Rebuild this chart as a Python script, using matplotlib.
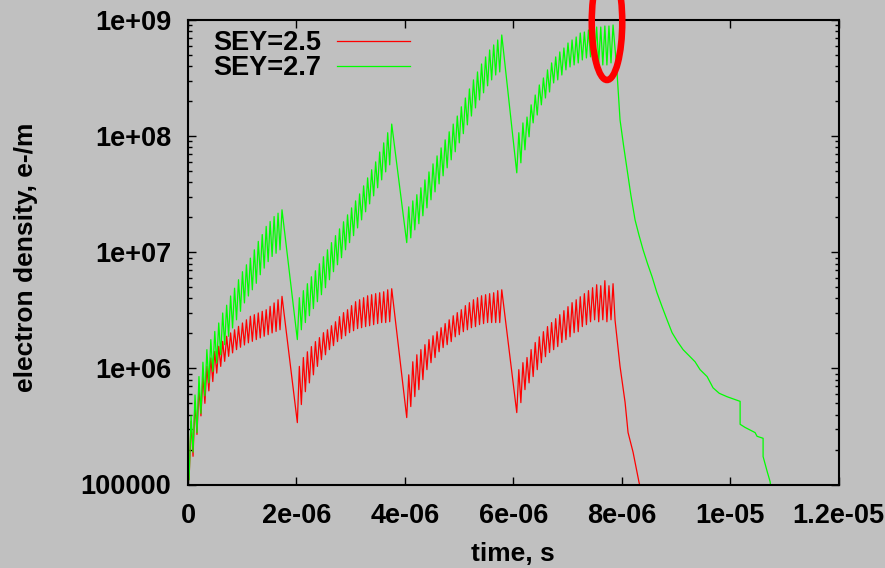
import numpy as np
import matplotlib
matplotlib.use('Agg')
import matplotlib.pyplot as plt
from matplotlib.patches import Ellipse
from matplotlib.ticker import FixedLocator, LogLocator, NullFormatter, NullLocator

plt.rcParams['font.family'] = ['Liberation Sans', 'DejaVu Sans']
plt.rcParams['font.weight'] = 'bold'

# ---------------- data ----------------
labels = ["SEY=2.5", "SEY=2.7"]
x_ticks = [0, 2e-6, 4e-6, 6e-6, 8e-6, 1e-5, 1.2e-5]
x_tick_labels = ["0", "2e-06", "4e-06", "6e-06", "8e-06", "1e-05", "1.2e-05"]
y_ticks = [1e5, 1e6, 1e7, 1e8, 1e9]
y_tick_labels = ["100000", "1e+06", "1e+07", "1e+08", "1e+09"]

# bunch trains: time of the first trough and of the last peak of each train
train_start = [0.02e-6, 2.017e-6, 4.035e-6, 6.065e-6]
train_end = [1.734e-6, 3.758e-6, 5.788e-6, 7.841e-6]

red_start = 1.5e5
green_start = 2.0e5

red_peaks_1 = [3.5e5, 5.1e5, 6.8e5, 8.5e5, 1.04e6, 1.23e6, 1.40e6, 1.55e6, 1.71e6, 1.89e6, 2.02e6, 2.15e6,
               2.30e6, 2.46e6, 2.62e6, 2.81e6, 2.90e6, 3.0e6, 3.1e6, 3.2e6, 3.42e6, 3.66e6, 3.9e6, 4.17e6]
red_troughs_1 = [1.1e5, 1.75e5, 2.7e5, 3.9e5, 5.0e5, 6.4e5, 7.7e5, 9.1e5, 1.04e6, 1.15e6, 1.27e6, 1.36e6,
                 1.45e6, 1.52e6, 1.59e6, 1.66e6, 1.71e6, 1.77e6, 1.83e6, 1.89e6, 1.95e6, 2.02e6, 2.08e6, 2.15e6]
red_peaks_2 = [1.04e6, 1.24e6, 1.39e6, 1.54e6, 1.70e6, 1.84e6, 2.03e6, 2.15e6, 2.33e6, 2.52e6, 2.79e6, 3.02e6,
               3.2e6, 3.47e6, 3.75e6, 3.9e6, 4.06e6, 4.22e6, 4.31e6, 4.40e6, 4.48e6, 4.57e6, 4.75e6, 4.85e6]
red_troughs_2 = [3.41e5, 4.88e5, 6.3e5, 7.5e5, 8.8e5, 1.04e6, 1.19e6, 1.31e6, 1.45e6, 1.57e6, 1.70e6, 1.80e6,
                 1.91e6, 2.03e6, 2.11e6, 2.2e6, 2.24e6, 2.29e6, 2.33e6, 2.38e6, 2.43e6, 2.48e6, 2.48e6, 2.52e6]
red_peaks_3 = [8.8e5, 1.14e6, 1.31e6, 1.45e6, 1.6e6, 1.77e6, 1.91e6, 2.07e6, 2.24e6, 2.43e6, 2.62e6, 2.84e6,
               3.02e6, 3.2e6, 3.47e6, 3.68e6, 3.9e6, 4.06e6, 4.22e6, 4.31e6, 4.40e6, 4.48e6, 4.67e6, 4.75e6]
red_troughs_3 = [3.77e5, 4.69e5, 5.71e5, 6.56e5, 8.0e5, 9.75e5, 1.12e6, 1.24e6, 1.39e6, 1.51e6, 1.6e6, 1.70e6,
                 1.87e6, 1.95e6, 2.07e6, 2.15e6, 2.24e6, 2.29e6, 2.38e6, 2.43e6, 2.48e6, 2.48e6, 2.48e6, 2.48e6]
red_peaks_4 = [9.75e5, 1.12e6, 1.24e6, 1.45e6, 1.67e6, 1.87e6, 2.07e6, 2.29e6, 2.48e6, 2.68e6, 2.9e6, 3.14e6,
               3.4e6, 3.68e6, 3.9e6, 4.14e6, 4.40e6, 4.67e6, 4.95e6, 5.25e6, 5.15e6, 5.69e6, 5.15e6, 5.36e6]
red_troughs_4 = [4.16e5, 5.07e5, 6.56e5, 7.5e5, 8.5e5, 9.75e5, 1.12e6, 1.26e6, 1.37e6, 1.45e6, 1.54e6, 1.67e6,
                 1.77e6, 1.87e6, 2.03e6, 2.07e6, 2.29e6, 2.38e6, 2.52e6, 2.62e6, 2.52e6, 2.62e6, 2.52e6, 2.62e6]

green_peaks_1 = [3.9e5, 5.9e5, 8.5e5, 1.13e6, 1.45e6, 1.77e6, 2.08e6, 2.46e6, 3.0e6, 3.5e6, 4.2e6, 4.9e6,
                 5.8e6, 6.8e6, 7.8e6, 8.9e6, 1.05e7, 1.24e7, 1.42e7, 1.67e7, 1.84e7, 2.03e7, 2.17e7, 2.32e7]
green_troughs_1 = [1.1e5, 1.9e5, 2.8e5, 4.1e5, 5.8e5, 7.5e5, 9.4e5, 1.11e6, 1.31e6, 1.6e6, 1.89e6, 2.23e6,
                   2.62e6, 3.1e6, 3.66e6, 4.2e6, 4.75e6, 5.4e6, 6.4e6, 7.3e6, 8.3e6, 9.2e6, 9.8e6, 1.05e7]
green_peaks_2 = [4.06e6, 4.67e6, 5.36e6, 6.15e6, 6.93e6, 7.96e6, 9.15e6, 1.05e7, 1.21e7, 1.39e7, 1.59e7, 1.83e7,
                 2.10e7, 2.41e7, 2.77e7, 3.18e7, 3.73e7, 4.37e7, 5.13e7, 6.0e7, 7.3e7, 8.75e7, 1.07e8, 1.27e8]
green_troughs_2 = [1.77e6, 2.15e6, 2.48e6, 2.84e6, 3.27e6, 3.75e6, 4.31e6, 4.95e6, 5.8e6, 6.8e6, 7.8e6, 8.97e6,
                   1.05e7, 1.21e7, 1.39e7, 1.62e7, 1.9e7, 2.23e7, 2.61e7, 3.06e7, 3.59e7, 4.2e7, 4.92e7, 5.66e7]
green_peaks_3 = [2.46e7, 2.77e7, 3.13e7, 3.59e7, 4.2e7, 4.92e7, 5.77e7, 6.76e7, 7.92e7, 9.29e7, 1.09e8, 1.27e8,
                 1.49e8, 1.79e8, 2.13e8, 2.55e8, 3.05e8, 3.57e8, 4.18e8, 4.81e8, 5.52e8, 6.1e8, 6.73e8, 7.43e8]
green_troughs_3 = [1.21e7, 1.33e7, 1.56e7, 1.76e7, 2.06e7, 2.41e7, 2.83e7, 3.31e7, 3.88e7, 4.55e7, 5.33e7, 6.25e7,
                   7.33e7, 8.75e7, 1.05e8, 1.25e8, 1.49e8, 1.75e8, 2.05e8, 2.36e8, 2.71e8, 3.05e8, 3.36e8, 3.57e8]
green_peaks_4 = [1.07e8, 1.30e8, 1.46e8, 1.86e8, 2.26e8, 2.76e8, 3.17e8, 3.72e8, 4.27e8, 4.81e8, 5.31e8, 5.74e8,
                 6.34e8, 6.73e8, 7.14e8, 7.73e8, 7.88e8, 8.2e8, 8.53e8, 8.7e8, 8.7e8, 8.88e8, 8.88e8, 9.06e8]
green_troughs_4 = [4.83e7, 5.89e7, 7.62e7, 9.86e7, 1.30e8, 1.52e8, 1.86e8, 2.13e8, 2.40e8, 2.87e8, 3.05e8, 3.36e8,
                   3.72e8, 3.94e8, 4.1e8, 4.27e8, 4.53e8, 4.71e8, 4.81e8, 4.53e8, 4.27e8, 4.1e8, 4.1e8, 4.27e8]

# decay after the last train
red_decay_t = [7.878e-6, 7.970e-6, 8.063e-6, 8.118e-6, 8.210e-6, 8.321e-6, 8.358e-6]
red_decay_v = [2.6e6, 1.04e6, 5.1e5, 2.8e5, 1.9e5, 1.04e5, 9.0e4]
green_decay_t = [7.915e-6, 7.970e-6, 8.035e-6, 8.100e-6, 8.170e-6, 8.247e-6, 8.320e-6, 8.395e-6, 8.480e-6,
                 8.561e-6, 8.650e-6, 8.745e-6, 8.840e-6, 8.930e-6, 9.030e-6, 9.133e-6, 9.354e-6, 9.446e-6,
                 9.576e-6, 9.686e-6, 9.800e-6, 9.945e-6, 10.185e-6, 10.185e-6,
                 10.277e-6, 10.461e-6, 10.498e-6, 10.609e-6, 10.609e-6, 10.683e-6, 10.738e-6, 10.757e-6]
green_decay_v = [3.5e8, 1.38e8, 8.3e7, 5.13e7, 3.1e7, 1.9e7, 1.4e7, 1.05e7, 7.9e6,
                 6.15e6, 4.5e6, 3.4e6, 2.6e6, 2.03e6, 1.7e6, 1.45e6, 1.14e6, 9.75e5,
                 8.5e5, 6.8e5, 6.1e5, 5.7e5, 5.2e5, 3.3e5,
                 3.1e5, 2.8e5, 2.6e5, 2.5e5, 1.74e5, 1.3e5, 1.06e5, 9.0e4]


def build(start_val, peaks, troughs, decay_t, decay_v):
    t = [0.0]
    v = [start_val]
    for ts, te, pk, tr in zip(train_start, train_end, peaks, troughs):
        n = len(pk)
        dt = (te - ts) / (n - 0.5)
        for i in range(n):
            t += [ts + i * dt, ts + (i + 0.5) * dt]
            v += [tr[i], pk[i]]
    t += decay_t
    v += decay_v
    return np.array(t), np.array(v)


red_t, red_v = build(red_start, [red_peaks_1, red_peaks_2, red_peaks_3, red_peaks_4],
                     [red_troughs_1, red_troughs_2, red_troughs_3, red_troughs_4],
                     red_decay_t, red_decay_v)
green_t, green_v = build(green_start, [green_peaks_1, green_peaks_2, green_peaks_3, green_peaks_4],
                         [green_troughs_1, green_troughs_2, green_troughs_3, green_troughs_4],
                         green_decay_t, green_decay_v)

# ---------------- figure ----------------
W, H = 885, 568
BG = '#c0c0c0'
fig = plt.figure(figsize=(W / 100, H / 100), dpi=100, facecolor=BG)
ax = fig.add_axes([188 / W, 1 - 484.5 / H, (838.5 - 188) / W, (484.5 - 20) / H])
ax.set_facecolor(BG)

ax.plot(red_t, red_v, color='#ff0000', lw=0.9, label=labels[0])
ax.plot(green_t, green_v, color='#00ff00', lw=0.9, label=labels[1])

ax.set_yscale('log')
ax.set_xlim(0, 1.2e-5)
ax.set_ylim(1e5, 1e9)

ax.xaxis.set_major_locator(FixedLocator(x_ticks))
ax.set_xticklabels(x_tick_labels)
ax.xaxis.set_minor_locator(NullLocator())
ax.yaxis.set_major_locator(FixedLocator(y_ticks))
ax.set_yticklabels(y_tick_labels)
ax.yaxis.set_minor_locator(LogLocator(base=10, subs=np.arange(2, 10)))
ax.yaxis.set_minor_formatter(NullFormatter())

for s in ax.spines.values():
    s.set_linewidth(1.5)
    s.set_color('black')

ax.tick_params(which='both', direction='in', top=True, right=True, width=1.0, color='black')
ax.tick_params(which='major', length=5.5, labelsize=19.5)
ax.tick_params(which='minor', length=3)
ax.tick_params(axis='y', pad=12)
ax.tick_params(axis='x', pad=13)

ax.set_xlabel('time, s', fontsize=19, fontweight='bold', labelpad=10)
ax.set_ylabel('electron density, e-/m', fontsize=19, fontweight='bold')
ax.yaxis.set_label_coords((38 - 188) / (838.5 - 188), (484.5 - 257) / (484.5 - 20))

leg = ax.legend(loc='upper left', bbox_to_anchor=((213 - 188) / (838.5 - 188), 1 - (30 - 20) / (484.5 - 20)),
                frameon=False, markerfirst=False, prop={'size': 19.5, 'weight': 'bold'}, handlelength=2.7,
                handletextpad=0.58, labelspacing=-0.02, borderpad=0, borderaxespad=0)

# red highlight ellipse (annotation, figure coordinates)
ell = Ellipse((607 / W, 1 - 22 / H), 30.5 / W, 116 / H, transform=fig.transFigure,
              fill=False, edgecolor='#ff0000', lw=4.7, clip_on=False, zorder=10)
fig.add_artist(ell)

fig.savefig('out.png', dpi=100, facecolor=BG)
